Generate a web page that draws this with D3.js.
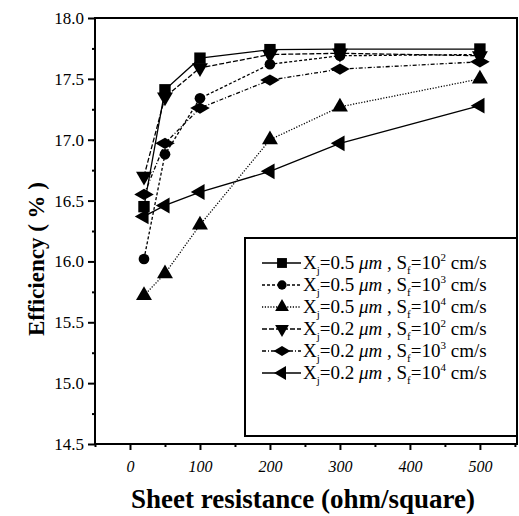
<!DOCTYPE html>
<html>
<head>
<meta charset="utf-8">
<script src="https://cdn.jsdelivr.net/npm/d3@7"></script>
<style>
body { margin: 0; background: #fff; }
svg text { font-family: "Liberation Serif", "Times New Roman", serif; fill: #000; }
</style>
</head>
<body>
<svg class="chart" width="519" height="516"></svg>
<script>
var resistance = [20, 50, 100, 200, 300, 500];
var sqr05_1e2 = [16.45, 17.41, 17.67, 17.74, 17.745, 17.745];
var cir05_1e3 = [16.02, 16.88, 17.34, 17.62, 17.69, 17.70];
var tri05_1e4 = [15.72, 15.90, 16.30, 17.00, 17.27, 17.50];
var dn02_1e2 = [16.70, 17.35, 17.59, 17.70, 17.71, 17.69];
var dia02_1e3 = [16.55, 16.97, 17.26, 17.49, 17.58, 17.64];
var lt02_1e4 = [16.37, 16.46, 16.57, 16.74, 16.97, 17.28];
var xTicks = [0, 100, 200, 300, 400, 500];
var yTicks = [14.5, 15.0, 15.5, 16.0, 16.5, 17.0, 17.5, 18.0];

var svg = d3.select('svg.chart');
var margin = {left: 95, top: 18, right: 2, bottom: 72};
var width = +svg.attr('width');
var height = +svg.attr('height');

var x = d3.scaleLinear().domain([-50, 553]).range([margin.left, width - margin.right]);
var y = d3.scaleLinear().domain([14.5, 18.0]).range([height - margin.bottom, margin.top]);

var series = [
    {name: '0.5', sf: '2', vals: sqr05_1e2, sym: d3.symbolSquare, size: 130, dash: null, rot: 0},
    {name: '0.5', sf: '3', vals: cir05_1e3, sym: d3.symbolCircle, size: 90, dash: '3,2', rot: 0},
    {name: '0.5', sf: '4', vals: tri05_1e4, sym: d3.symbolTriangle, size: 110, dash: '1.2,1.6', rot: 0},
    {name: '0.2', sf: '2', vals: dn02_1e2, sym: d3.symbolTriangle, size: 110, dash: '5,2', rot: 180},
    {name: '0.2', sf: '3', vals: dia02_1e3, sym: d3.symbolDiamond, size: 110, dash: '4,2,1,2', rot: 90},
    {name: '0.2', sf: '4', vals: lt02_1e4, sym: d3.symbolTriangle, size: 110, dash: null, rot: 270}
];

// frame
svg.append('rect')
    .attr('x', x(-50)).attr('y', y(18))
    .attr('width', x(553) - x(-50)).attr('height', y(14.5) - y(18))
    .attr('fill', 'none').attr('stroke', '#000').attr('stroke-width', 2);

// y axis ticks
var yAxis = d3.axisLeft(y).tickValues(yTicks).tickFormat(d3.format('.1f')).tickSize(7).tickPadding(4);
var gy = svg.append('g').attr('transform', 'translate(' + x(-50) + ',0)').call(yAxis);
gy.select('.domain').remove();
gy.selectAll('line').attr('stroke-width', 2);
gy.selectAll('text').style('font-size', '17px');
svg.append('g').attr('transform', 'translate(' + x(-50) + ',0)')
    .call(d3.axisLeft(y).tickValues(d3.range(14.75, 18, 0.5)).tickFormat('').tickSize(3))
    .call(function (g) { g.select('.domain').remove(); g.selectAll('line').attr('stroke-width', 2); });

// x axis ticks
var xAxis = d3.axisBottom(x).tickValues(xTicks).tickSize(6).tickPadding(11);
var gx = svg.append('g').attr('transform', 'translate(0,' + y(14.5) + ')').call(xAxis);
gx.select('.domain').remove();
gx.selectAll('line').attr('stroke-width', 2);
gx.selectAll('text').style('font-size', '16px').style('font-style', 'italic');
svg.append('g').attr('transform', 'translate(0,' + y(14.5) + ')')
    .call(d3.axisBottom(x).tickValues([-50, 50, 150, 250, 350, 450, 550]).tickFormat('').tickSize(3))
    .call(function (g) { g.select('.domain').remove(); g.selectAll('line').attr('stroke-width', 2); });

// axis titles
svg.append('text')
    .attr('transform', 'translate(44,259) rotate(-90)')
    .attr('text-anchor', 'middle')
    .style('font-size', '23px').style('font-weight', 'bold')
    .text('Efficiency ( % )');
svg.append('text')
    .attr('x', 303).attr('y', 508)
    .attr('text-anchor', 'middle')
    .style('font-size', '27px').style('font-weight', 'bold')
    .text('Sheet resistance (ohm/square)');

// lines and markers
var line = d3.line()
    .x(function (d, i) { return x(resistance[i]); })
    .y(function (d) { return y(d); });

series.forEach(function (s) {
    svg.append('path')
        .attr('d', line(s.vals))
        .attr('fill', 'none').attr('stroke', '#000').attr('stroke-width', 1.3)
        .attr('stroke-dasharray', s.dash);
});
series.forEach(function (s) {
    svg.append('g').selectAll('path')
        .data(s.vals)
        .enter()
        .append('path')
        .attr('d', d3.symbol().type(s.sym).size(s.size))
        .attr('transform', function (d, i) {
            return 'translate(' + x(resistance[i]) + ',' + y(d) + ') rotate(' + s.rot + ')';
        })
        .attr('fill', '#000');
});

// legend
var lg = svg.append('g');
lg.append('rect')
    .attr('x', 245).attr('y', 238).attr('width', x(553) - 245).attr('height', 198)
    .attr('fill', '#fff').attr('stroke', '#000').attr('stroke-width', 2);
series.forEach(function (s, i) {
    var ly = 263 + i * 22;
    lg.append('line')
        .attr('x1', 262).attr('x2', 301).attr('y1', ly).attr('y2', ly)
        .attr('stroke', '#000').attr('stroke-width', 1.3)
        .attr('stroke-dasharray', s.dash);
    lg.append('path')
        .attr('d', d3.symbol().type(s.sym).size(s.size * 0.75))
        .attr('transform', 'translate(282,' + ly + ') rotate(' + s.rot + ')')
        .attr('fill', '#000');
    var t = lg.append('text').attr('x', 303).attr('y', ly + 6).style('font-size', '19px');
    t.append('tspan').text('X');
    t.append('tspan').attr('dy', 5).style('font-size', '11px').text('j');
    t.append('tspan').attr('dy', -5).text('=' + s.name + ' ');
    t.append('tspan').style('font-style', 'italic').text('μm');
    t.append('tspan').text(' , S');
    t.append('tspan').attr('dy', 5).style('font-size', '11px').text('f');
    t.append('tspan').attr('dy', -5).text('=10');
    t.append('tspan').attr('dy', -8).style('font-size', '11px').text(s.sf);
    t.append('tspan').attr('dy', 8).text(' cm/s');
});
</script>
</body>
</html>
